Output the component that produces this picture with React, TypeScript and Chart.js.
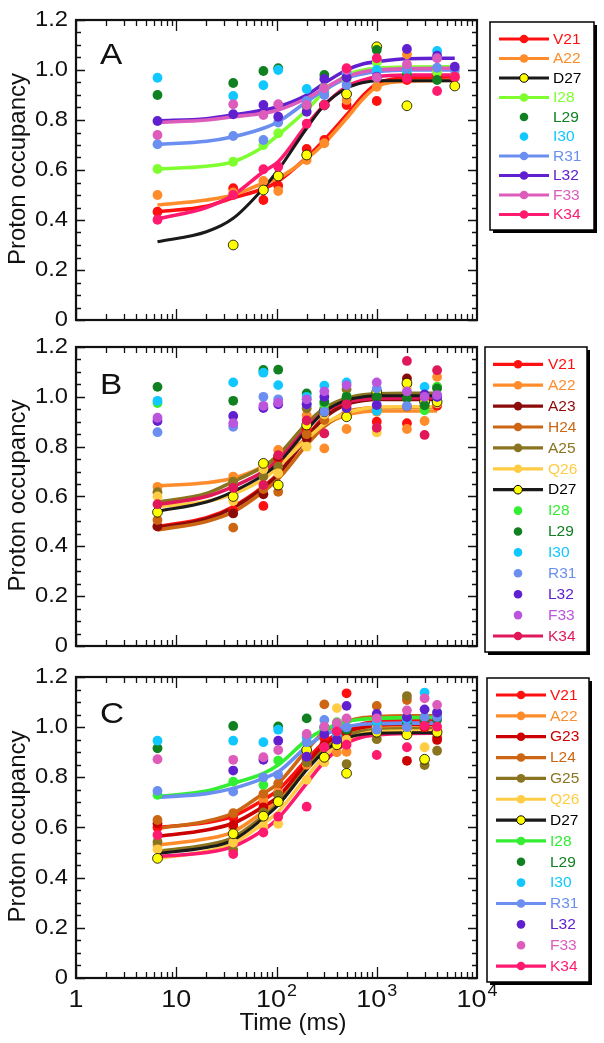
import React, { useEffect, useRef } from "react";
import { Chart, registerables } from "chart.js";
Chart.register(...registerables);

const FONT = "'Liberation Sans', Arial, Helvetica, sans-serif";

// ---------- axes ----------
const yTicks = [0, 0.2, 0.4, 0.6, 0.8, 1.0, 1.2];
const yTickLabels = ["0", "0.2", "0.4", "0.6", "0.8", "1.0", "1.2"];
const xMajor = [1, 10, 100, 1000, 10000];
const xTickBase = ["1", "10", "10", "10", "10"];
const xTickExp = ["", "", "2", "3", "4"];
const yTitle = "Proton occupancy";
const xTitle = "Time (ms)";

// ---------- Panel A ----------
const timesA = [6.5, 37, 74, 104, 200, 300, 500, 1000, 2000, 4000, 6000];
const fitTimesA = [6.5, 20, 37, 74, 104, 200, 300, 500, 740, 1000, 2000, 6000];
const ptsA_V21 = [0.433, 0.527, 0.48, 0.537, 0.684, 0.72, 0.86, 0.876, 0.96, 0.98, 0.97];
const ptsA_A22 = [0.5, 0.51, 0.556, 0.516, 0.64, 0.707, 0.88, 0.933, 1.063, 1.0, 0.98];
const ptsA_D27 = [null, 0.3, 0.52, 0.576, 0.66, 0.86, 0.904, 1.093, 0.857, null, 0.936];
const ptsA_I28 = [0.604, 0.633, 0.7, 0.747, 0.85, 0.93, 0.96, 1.03, 0.99, 0.99, null];
const ptsA_L29 = [0.9, 0.948, 0.996, 1.007, 0.857, 0.98, 0.97, 1.08, 0.98, 0.96, null];
const ptsA_I30 = [0.969, 0.896, 0.939, 1.0, 0.924, 0.91, 0.99, 1.0, 1.0, 1.076, null];
const ptsA_R31 = [0.703, 0.736, 0.72, 0.79, 0.876, 0.9, 0.94, 0.97, 1.007, 1.009, 1.0];
const ptsA_L32 = [0.796, 0.823, 0.86, 0.813, 0.833, 0.964, 0.97, 0.973, 1.084, 1.057, 1.013];
const ptsA_F33 = [0.74, 0.863, 0.82, 0.863, 0.86, 0.927, 1.0, 0.97, 1.023, 1.047, null];
const ptsA_K34 = [0.401, 0.5, 0.603, 0.613, 0.785, 0.86, 1.007, 1.047, 0.967, 0.916, 0.973];
const fitA_V21 = [0.433, 0.455, 0.489, 0.525, 0.555, 0.65, 0.72, 0.82, 0.9, 0.945, 0.968, 0.972];
const fitA_A22 = [0.46, 0.48, 0.5, 0.547, 0.567, 0.645, 0.707, 0.807, 0.887, 0.933, 0.955, 0.958];
const fitA_D27 = [0.313, 0.353, 0.407, 0.527, 0.6, 0.767, 0.86, 0.927, 0.95, 0.957, 0.957, 0.957];
const fitA_I28 = [0.604, 0.615, 0.633, 0.693, 0.74, 0.84, 0.913, 0.98, 1.0, 1.007, 1.012, 1.013];
const fitA_R31 = [0.703, 0.715, 0.733, 0.767, 0.793, 0.873, 0.92, 0.967, 0.985, 0.993, 1.0, 1.0];
const fitA_L32 = [0.796, 0.805, 0.82, 0.84, 0.853, 0.9, 0.947, 1.0, 1.025, 1.033, 1.045, 1.047];
const fitA_F33 = [0.79, 0.8, 0.813, 0.827, 0.84, 0.887, 0.927, 0.973, 0.993, 1.0, 1.005, 1.007];
const fitA_K34 = [0.404, 0.45, 0.5, 0.593, 0.633, 0.78, 0.86, 0.933, 0.96, 0.973, 0.98, 0.98];

// ---------- Panel B ----------
const timesB = [6.5, 37, 74, 104, 200, 300, 500, 1000, 2000, 3000, 4000];
const fitTimesB = [6.5, 20, 37, 74, 104, 200, 300, 500, 740, 1000, 2000, 4000];
const ptsB_V21 = [0.48, 0.545, 0.562, 0.75, 0.87, 0.94, 0.97, 0.9, 0.894, 0.99, 0.964];
const ptsB_A22 = [0.639, 0.68, 0.72, 0.787, 0.926, 0.793, 0.871, 0.94, 0.871, 0.903, 1.08];
const ptsB_A23 = [0.48, 0.532, 0.609, 0.76, 0.833, 0.95, 0.99, 1.0, 1.074, 1.0, 1.0];
const ptsB_H24 = [0.506, 0.475, 0.63, 0.619, 0.85, 0.907, 0.94, 0.95, 0.96, 0.96, 1.0];
const ptsB_A25 = [0.617, 0.66, 0.68, 0.72, 0.954, 0.95, 1.03, 1.0, 1.05, 0.98, 1.04];
const ptsB_Q26 = [0.6, 0.582, 0.71, 0.693, 0.8, 0.93, 0.95, 0.857, 1.04, 0.96, 0.974];
const ptsB_D27 = [0.537, 0.6, 0.733, 0.646, 0.887, 0.94, 0.92, 1.02, 1.055, 0.98, 0.98];
const ptsB_I28 = [0.975, null, 1.1, null, 0.99, 0.97, 1.0, null, null, 0.946, 1.04];
const ptsB_L29 = [1.04, 0.984, 1.108, 1.109, 1.014, 0.98, 1.0, 1.0, 0.994, 0.966, 1.034];
const ptsB_I30 = [0.984, 1.058, 1.097, 1.047, 1.0, 1.045, 1.058, 0.944, null, 1.04, null];
const ptsB_R31 = [0.858, 0.88, 1.0, 0.99, 0.97, 0.94, null, 1.034, 0.963, null, 1.0];
const ptsB_L32 = [0.903, 0.923, 0.955, 0.97, 0.97, 1.0, 0.955, 0.967, null, 1.01, 1.0];
const ptsB_F33 = [0.916, 0.894, 0.964, 0.977, 0.99, 1.022, 1.047, 1.058, 1.022, 1.0, 1.007];
const ptsB_K34 = [0.569, 0.635, 0.646, 0.766, 0.905, 0.853, 0.97, 0.876, 1.144, 0.847, 1.107];
const fitB_V21 = [0.479, 0.515, 0.559, 0.64, 0.692, 0.84, 0.92, 0.974, 0.99, 0.994, 0.995, 0.995];
const fitB_A22 = [0.643, 0.655, 0.673, 0.72, 0.753, 0.833, 0.887, 0.927, 0.94, 0.943, 0.943, 0.943];
const fitB_A23 = [0.475, 0.51, 0.555, 0.635, 0.688, 0.835, 0.915, 0.97, 0.985, 0.99, 0.99, 0.99];
const fitB_H24 = [0.466, 0.5, 0.538, 0.62, 0.67, 0.807, 0.88, 0.94, 0.953, 0.957, 0.958, 0.958];
const fitB_A25 = [0.577, 0.612, 0.66, 0.72, 0.766, 0.893, 0.954, 0.994, 1.008, 1.012, 1.014, 1.014];
const fitB_Q26 = [0.56, 0.58, 0.61, 0.67, 0.72, 0.83, 0.89, 0.935, 0.952, 0.958, 0.96, 0.96];
const fitB_D27 = [0.541, 0.578, 0.62, 0.686, 0.733, 0.867, 0.94, 0.987, 1.0, 1.004, 1.004, 1.004];
const fitB_K34 = [0.568, 0.6, 0.64, 0.7, 0.747, 0.874, 0.94, 0.98, 0.99, 0.995, 0.996, 0.996];

// ---------- Panel C ----------
const timesC = [6.5, 37, 74, 104, 200, 300, 400, 500, 1000, 2000, 3000, 4000];
const fitTimesC = [6.5, 20, 37, 74, 104, 200, 300, 500, 740, 1000, 2000, 4300];
const ptsC_V21 = [0.6, 0.64, 0.7, 0.74, 0.87, 0.956, 0.96, 1.135, 1.0, 1.0, 1.02, 0.96];
const ptsC_A22 = [0.53, 0.6, 0.71, 0.74, 0.85, 0.92, 0.9, 0.902, 1.0, 1.0, 1.0, 0.98];
const ptsC_G23 = [0.616, 0.61, 0.68, 0.73, 0.86, 0.93, 0.98, 0.98, 1.0, 0.866, 1.0, 0.949];
const ptsC_L24 = [0.63, 0.657, 0.734, 0.776, 0.89, 1.091, 1.0, 1.03, 1.085, 1.108, 1.04, 1.05];
const ptsC_G25 = [0.543, 0.51, 0.66, 0.73, 0.86, 0.92, 0.96, 0.853, 0.952, 1.124, 0.849, 0.906];
const ptsC_Q26 = [0.513, 0.54, 0.606, 0.615, 0.79, 0.86, 1.076, 0.95, 1.0, 0.98, 0.92, 0.99];
const ptsC_D27 = [0.477, 0.575, 0.645, 0.703, 0.909, 0.88, 0.93, 0.816, 0.98, 0.97, 0.872, 0.98];
const ptsC_I28 = [0.73, 0.783, 0.77, 0.867, 0.94, 0.99, 1.02, 1.03, 1.04, 1.04, 1.04, 1.04];
const ptsC_L29 = [0.916, 1.005, null, 1.003, 1.035, 1.0, null, 0.99, 1.02, 1.018, 1.03, 1.03];
const ptsC_I30 = [0.946, 0.946, 0.94, 0.99, 0.96, 1.0, 0.97, 1.0, 1.02, 1.03, 1.138, 1.06];
const ptsC_R31 = [0.746, 0.743, 0.8, 0.81, 0.94, 1.029, 1.0, 1.0, 0.99, 1.0, 1.04, 1.04];
const ptsC_L32 = [null, 0.827, 0.87, 0.946, 0.882, 0.973, 0.95, 1.085, 1.053, 1.04, 1.071, 1.058];
const ptsC_F33 = [0.872, 0.87, 0.88, 0.909, 0.973, 1.002, 1.017, 1.035, 1.035, 1.067, 1.115, 1.089];
const ptsC_K34 = [0.57, 0.494, 0.58, 0.643, 0.683, 0.92, 0.983, 0.93, 0.889, 0.92, 1.005, 1.002];
const fitC_V21 = [0.6, 0.62, 0.645, 0.71, 0.75, 0.87, 0.94, 0.99, 1.015, 1.022, 1.026, 1.026];
const fitC_A22 = [0.53, 0.555, 0.583, 0.663, 0.71, 0.849, 0.922, 0.976, 0.995, 1.0, 1.002, 1.002];
const fitC_G23 = [0.564, 0.59, 0.617, 0.683, 0.723, 0.856, 0.929, 0.982, 1.0, 1.008, 1.012, 1.012];
const fitC_L24 = [0.597, 0.625, 0.657, 0.736, 0.776, 0.909, 0.982, 1.022, 1.038, 1.042, 1.045, 1.045];
const fitC_G25 = [0.505, 0.53, 0.56, 0.645, 0.695, 0.835, 0.91, 0.965, 0.985, 0.99, 0.993, 0.993];
const fitC_Q26 = [0.477, 0.505, 0.537, 0.617, 0.663, 0.803, 0.883, 0.949, 0.975, 0.982, 0.985, 0.985];
const fitC_D27 = [0.497, 0.52, 0.55, 0.637, 0.69, 0.83, 0.903, 0.956, 0.972, 0.976, 0.978, 0.978];
const fitC_I28 = [0.723, 0.745, 0.776, 0.816, 0.849, 0.949, 0.991, 1.022, 1.032, 1.035, 1.038, 1.039];
const fitC_R31 = [0.72, 0.735, 0.756, 0.796, 0.822, 0.922, 0.969, 1.002, 1.012, 1.014, 1.016, 1.016];
const fitC_K34 = [0.484, 0.5, 0.524, 0.59, 0.637, 0.776, 0.862, 0.936, 0.962, 0.969, 0.975, 0.976];

// ---------- colours ----------
const C_RED = "#ff1010";
const C_ORANGE = "#ff8c2a";
const C_DARKRED = "#8b0a0a";
const C_G23 = "#cc0000";
const C_BROWN = "#cc6612";
const C_OLIVE = "#8b7420";
const C_GOLD = "#ffcc44";
const C_BLACK = "#1a1a1a";
const C_YELLOW = "#ffff00";
const C_LIME = "#80ff30";
const C_GREEN2 = "#33ee33";
const C_DKGREEN = "#108020";
const C_CYAN = "#10c8ff";
const C_BLUE = "#6a8ff0";
const C_PURPLE = "#6020d0";
const C_ORCHID = "#dd5cbb";
const C_VIOLET = "#bb55dd";
const C_PINK = "#ff1a70";
const C_CRIMSON = "#e0185a";

type Series = { label: string; color: string; pts: (number | null)[]; fit?: number[] };

const seriesA: Series[] = [
  { label: "V21", color: C_RED, pts: ptsA_V21, fit: fitA_V21 },
  { label: "A22", color: C_ORANGE, pts: ptsA_A22, fit: fitA_A22 },
  { label: "D27", color: C_BLACK, pts: ptsA_D27, fit: fitA_D27 },
  { label: "I28", color: C_LIME, pts: ptsA_I28, fit: fitA_I28 },
  { label: "L29", color: C_DKGREEN, pts: ptsA_L29 },
  { label: "I30", color: C_CYAN, pts: ptsA_I30 },
  { label: "R31", color: C_BLUE, pts: ptsA_R31, fit: fitA_R31 },
  { label: "L32", color: C_PURPLE, pts: ptsA_L32, fit: fitA_L32 },
  { label: "F33", color: C_ORCHID, pts: ptsA_F33, fit: fitA_F33 },
  { label: "K34", color: C_PINK, pts: ptsA_K34, fit: fitA_K34 },
];
const seriesB: Series[] = [
  { label: "V21", color: C_RED, pts: ptsB_V21, fit: fitB_V21 },
  { label: "A22", color: C_ORANGE, pts: ptsB_A22, fit: fitB_A22 },
  { label: "A23", color: C_DARKRED, pts: ptsB_A23, fit: fitB_A23 },
  { label: "H24", color: C_BROWN, pts: ptsB_H24, fit: fitB_H24 },
  { label: "A25", color: C_OLIVE, pts: ptsB_A25, fit: fitB_A25 },
  { label: "Q26", color: C_GOLD, pts: ptsB_Q26, fit: fitB_Q26 },
  { label: "D27", color: C_BLACK, pts: ptsB_D27, fit: fitB_D27 },
  { label: "I28", color: C_GREEN2, pts: ptsB_I28 },
  { label: "L29", color: C_DKGREEN, pts: ptsB_L29 },
  { label: "I30", color: C_CYAN, pts: ptsB_I30 },
  { label: "R31", color: C_BLUE, pts: ptsB_R31 },
  { label: "L32", color: C_PURPLE, pts: ptsB_L32 },
  { label: "F33", color: C_VIOLET, pts: ptsB_F33 },
  { label: "K34", color: C_CRIMSON, pts: ptsB_K34, fit: fitB_K34 },
];
const seriesC: Series[] = [
  { label: "V21", color: C_RED, pts: ptsC_V21, fit: fitC_V21 },
  { label: "A22", color: C_ORANGE, pts: ptsC_A22, fit: fitC_A22 },
  { label: "G23", color: C_G23, pts: ptsC_G23, fit: fitC_G23 },
  { label: "L24", color: C_BROWN, pts: ptsC_L24, fit: fitC_L24 },
  { label: "G25", color: C_OLIVE, pts: ptsC_G25, fit: fitC_G25 },
  { label: "Q26", color: C_GOLD, pts: ptsC_Q26, fit: fitC_Q26 },
  { label: "D27", color: C_BLACK, pts: ptsC_D27, fit: fitC_D27 },
  { label: "I28", color: C_GREEN2, pts: ptsC_I28, fit: fitC_I28 },
  { label: "L29", color: C_DKGREEN, pts: ptsC_L29 },
  { label: "I30", color: C_CYAN, pts: ptsC_I30 },
  { label: "R31", color: C_BLUE, pts: ptsC_R31, fit: fitC_R31 },
  { label: "L32", color: C_PURPLE, pts: ptsC_L32 },
  { label: "F33", color: C_ORCHID, pts: ptsC_F33 },
  { label: "K34", color: C_PINK, pts: ptsC_K34, fit: fitC_K34 },
];

type Panel = {
  letter: string;
  top: number;
  height: number;
  pad: { top: number; bottom: number };
  letterDy: number;
  times: number[];
  fitTimes: number[];
  series: Series[];
  legend: { x0: number; y0: number; x1: number; y1: number; row0: number; dy: number; lx0: number; lx1: number; tx: number };
  xLabels: boolean;
};

const PLOT_LEFT = 76;
const PLOT_RIGHT = 477;

const panels: Panel[] = [
  {
    letter: "A", top: 0, height: 330, pad: { top: 20, bottom: 10 }, letterDy: 44,
    times: timesA, fitTimes: fitTimesA, series: seriesA, xLabels: false,
    legend: { x0: 490, y0: 22, x1: 594, y1: 230, row0: 39, dy: 19.5, lx0: 499, lx1: 549, tx: 553 },
  },
  {
    letter: "B", top: 330, height: 330, pad: { top: 17, bottom: 14 }, letterDy: 47,
    times: timesB, fitTimes: fitTimesB, series: seriesB, xLabels: false,
    legend: { x0: 485, y0: 17, x1: 587, y1: 322, row0: 34.3, dy: 20.9, lx0: 493, lx1: 543, tx: 548 },
  },
  {
    letter: "C", top: 660, height: 383, pad: { top: 17, bottom: 65 }, letterDy: 46,
    times: timesC, fitTimes: fitTimesC, series: seriesC, xLabels: true,
    legend: { x0: 487, y0: 18, x1: 589, y1: 322, row0: 35, dy: 20.85, lx0: 496, lx1: 546, tx: 550 },
  },
];

function drawText(ctx: CanvasRenderingContext2D, s: string, x: number, y: number, size: number, color: string, align: CanvasTextAlign, baseline: CanvasTextBaseline, sx = 1) {
  ctx.save();
  ctx.translate(x, y);
  ctx.scale(sx, 1);
  ctx.font = `${size}px ${FONT}`;
  ctx.fillStyle = color;
  ctx.textAlign = align;
  ctx.textBaseline = baseline;
  ctx.fillText(s, 0, 0);
  ctx.restore();
}

function decorPlugin(p: Panel) {
  return {
    id: "decor" + p.letter,
    afterDraw(chart: any) {
      const ctx: CanvasRenderingContext2D = chart.ctx;
      const { left, right, top, bottom } = chart.chartArea;
      const xs = chart.scales.x;
      const ys = chart.scales.y;
      ctx.save();
      ctx.strokeStyle = "#111";
      ctx.lineWidth = 1.3;
      // y ticks (inward, both sides)
      for (let k = 0; k <= 24; k++) {
        const py = Math.round(ys.getPixelForValue(k * 0.05)) + 0.5;
        const len = k % 4 === 0 ? 9 : 5;
        ctx.beginPath();
        ctx.moveTo(left, py); ctx.lineTo(left + len, py);
        ctx.moveTo(right, py); ctx.lineTo(right - len, py);
        ctx.stroke();
      }
      // x ticks (inward, top and bottom)
      for (let d = 0; d < 4; d++) {
        for (let m = 1; m <= 9; m++) {
          const v = m * Math.pow(10, d);
          const px = Math.round(xs.getPixelForValue(v)) + 0.5;
          const len = m === 1 ? 11 : 6;
          ctx.beginPath();
          ctx.moveTo(px, top); ctx.lineTo(px, top + len);
          ctx.moveTo(px, bottom); ctx.lineTo(px, bottom - len);
          ctx.stroke();
        }
      }
      // frame
      ctx.lineWidth = 2.2;
      ctx.strokeStyle = "#111";
      ctx.strokeRect(left, top, right - left, bottom - top);

      // y tick labels
      yTicks.forEach((v, i) => {
        drawText(ctx, yTickLabels[i], left - 8, ys.getPixelForValue(v), 22, "#111", "right", "middle", 1.08);
      });
      // y title
      ctx.save();
      ctx.translate(25, (top + bottom) / 2 - 1);
      ctx.rotate(-Math.PI / 2);
      ctx.font = `24px ${FONT}`;
      ctx.fillStyle = "#111";
      ctx.textAlign = "center";
      ctx.textBaseline = "alphabetic";
      ctx.fillText(yTitle, 0, 0);
      ctx.restore();

      // x labels
      if (p.xLabels) {
        xMajor.forEach((v, i) => {
          const px = xs.getPixelForValue(v);
          const sx = 1.12;
          ctx.font = `24px ${FONT}`;
          const w1 = ctx.measureText(xTickBase[i]).width * sx;
          ctx.font = `16px ${FONT}`;
          const w2 = xTickExp[i] ? (ctx.measureText(xTickExp[i]).width * sx + 1) : 0;
          const x0 = px - (w1 + w2) / 2;
          const by = bottom + 29;
          drawText(ctx, xTickBase[i], x0, by, 24, "#111", "left", "alphabetic", sx);
          if (xTickExp[i]) drawText(ctx, xTickExp[i], x0 + w1 + 1, by - 11, 16, "#111", "left", "alphabetic", sx);
        });
        drawText(ctx, xTitle, 293, bottom + 52, 24, "#111", "center", "alphabetic", 1);
      }

      // panel letter
      drawText(ctx, p.letter, left + 24, top + p.letterDy, 29, "#111", "left", "alphabetic", 1.15);

      // legend box
      const L = p.legend;
      ctx.fillStyle = "#000";
      ctx.fillRect(L.x0 + 3, L.y0 + 3, L.x1 - L.x0, L.y1 - L.y0);
      ctx.fillStyle = "#fff";
      ctx.fillRect(L.x0, L.y0, L.x1 - L.x0, L.y1 - L.y0);
      ctx.lineWidth = 1.5;
      ctx.strokeStyle = "#000";
      ctx.strokeRect(L.x0, L.y0, L.x1 - L.x0, L.y1 - L.y0);
      p.series.forEach((s, i) => {
        const y = L.row0 + i * L.dy;
        const mx = (L.lx0 + L.lx1) / 2;
        if (s.fit) {
          ctx.strokeStyle = s.color;
          ctx.lineWidth = 3.2;
          ctx.beginPath();
          ctx.moveTo(L.lx0, y); ctx.lineTo(L.lx1, y);
          ctx.stroke();
        }
        ctx.beginPath();
        ctx.arc(mx, y, 4.3, 0, Math.PI * 2);
        ctx.fillStyle = s.label === "D27" ? C_YELLOW : s.color;
        ctx.fill();
        if (s.label === "D27") {
          ctx.lineWidth = 1;
          ctx.strokeStyle = "#000";
          ctx.stroke();
        }
        drawText(ctx, s.label, L.tx, y + 0.5, 15.5, s.label === "D27" ? "#000" : s.color, "left", "middle", 1);
      });
      ctx.restore();
    },
  };
}

function buildDatasets(p: Panel) {
  const ds: any[] = [];
  p.series.forEach((s, i) => {
    const isD27 = s.label === "D27";
    if (s.fit) {
      ds.push({
        type: "line",
        label: s.label + " fit",
        data: p.fitTimes.map((t, k) => ({ x: t, y: s.fit![k] })),
        borderColor: s.color,
        borderWidth: isD27 ? 3 : 3.6,
        pointRadius: 0,
        cubicInterpolationMode: "monotone",
        fill: false,
        order: isD27 ? 100 : 200 - i,
      });
    }
    ds.push({
      type: "scatter",
      label: s.label,
      data: p.times.map((t, k) => ({ x: t, y: s.pts[k] })).filter((d) => d.y != null),
      backgroundColor: isD27 ? C_YELLOW : s.color,
      borderColor: isD27 ? "#000" : s.color,
      borderWidth: isD27 ? 0.8 : 0,
      pointRadius: 4.9,
      showLine: false,
      order: 50 - i,
    });
  });
  return ds;
}

function PanelChart({ p }: { p: Panel }) {
  const ref = useRef<HTMLCanvasElement | null>(null);
  useEffect(() => {
    if (!ref.current) return;
    const chart = new Chart(ref.current, {
      type: "scatter",
      data: { datasets: buildDatasets(p) },
      options: {
        responsive: false,
        maintainAspectRatio: false,
        animation: false,
        devicePixelRatio: 1,
        layout: { padding: { left: PLOT_LEFT, right: 604 - PLOT_RIGHT, top: p.pad.top, bottom: p.pad.bottom } },
        scales: {
          x: { type: "logarithmic", min: 1, max: 10000, display: false },
          y: { type: "linear", min: 0, max: 1.2, display: false },
        },
        plugins: { legend: { display: false }, tooltip: { enabled: false } },
      },
      plugins: [decorPlugin(p)],
    } as any);
    return () => chart.destroy();
  }, []);
  return (
    <canvas
      ref={ref}
      width={604}
      height={p.height}
      style={{ position: "absolute", left: 0, top: p.top, width: 604, height: p.height }}
    />
  );
}

export default function App() {
  return (
    <div style={{ position: "absolute", left: 0, top: 0, width: 604, height: 1043, background: "#fff" }}>
      {panels.map((p) => (
        <PanelChart key={p.letter} p={p} />
      ))}
    </div>
  );
}
